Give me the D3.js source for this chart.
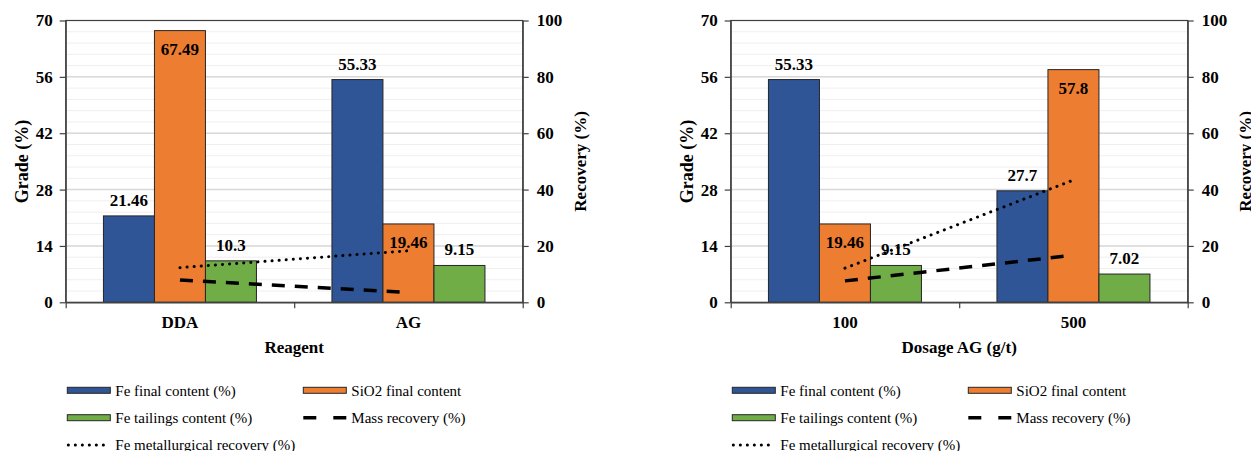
<!DOCTYPE html>
<html>
<head>
<meta charset="utf-8">
<script src="https://cdn.jsdelivr.net/npm/d3@7"></script>
<style>
  body { margin: 0; background: #fff; }
  svg { display: block; font-family: "Liberation Serif", "Times New Roman", serif; }
</style>
</head>
<body>
<svg width="1251" height="451"></svg>
<script>
// series names, in legend order
var seriesNames = ['Fe final content (%)', 'SiO2 final content', 'Fe tailings content (%)',
                   'Mass recovery (%)', 'Fe metallurgical recovery (%)'];
var barColors = ['#2f5597', '#ed7d31', '#70ad47'];

// left chart: reagent
var reagentCats = ['DDA', 'AG'];
var reagentFeFinal = [21.46, 55.33];
var reagentSiO2 = [67.49, 19.46];
var reagentFeTail = [10.3, 9.15];
var reagentMassRec = [7.9, 3.5];
var reagentFeRec = [12.3, 18.3];

// right chart: dosage
var dosageCats = ['100', '500'];
var dosageFeFinal = [55.33, 27.7];
var dosageSiO2 = [19.46, 57.8];
var dosageFeTail = [9.15, 7.02];
var dosageMassRec = [7.6, 16.7];
var dosageFeRec = [12.1, 43.4];

var gradeTicks = [0, 14, 28, 42, 56, 70];
var gradeMinor = d3.range(0, 70.01, 2.8);
var recoveryTicks = [0, 20, 40, 60, 80, 100];

var svg = d3.select('svg');
var serif = '"Liberation Serif", "Times New Roman", serif';

var plotW = 457, plotTop = 20.5, plotBottom = 302.3;

function drawChart(left, cats, bars, lines, xTitle) {
  var g = svg.append('g').attr('transform', 'translate(' + left + ',0)');

  var y = d3.scaleLinear().domain([0, 70]).range([plotBottom, plotTop]);
  var yR = d3.scaleLinear().domain([0, 100]).range([plotBottom, plotTop]);
  var x0 = d3.scaleBand().domain(cats).range([0, plotW]);
  var x1 = d3.scaleBand().domain([0, 1, 2]).range([0, x0.bandwidth()]).paddingOuter(0.74);

  // gridlines
  g.selectAll('.minor').data(gradeMinor).enter().append('line')
    .attr('x1', 0).attr('x2', plotW)
    .attr('y1', function(d) { return y(d); }).attr('y2', function(d) { return y(d); })
    .style('stroke', '#efefef').style('stroke-width', 1);
  g.selectAll('.major').data(gradeTicks.slice(1, -1)).enter().append('line')
    .attr('x1', 0).attr('x2', plotW)
    .attr('y1', function(d) { return y(d); }).attr('y2', function(d) { return y(d); })
    .style('stroke', '#d9d9d9').style('stroke-width', 1.5);

  // bars
  var grp = g.selectAll('.grp').data(cats).enter().append('g')
    .attr('transform', function(d) { return 'translate(' + x0(d) + ',0)'; });
  grp.selectAll('rect').data(function(d, i) { return bars.map(function(s) { return s[i]; }); })
    .enter().append('rect')
    .attr('x', function(d, j) { return x1(j); })
    .attr('width', x1.bandwidth())
    .attr('y', function(d) { return y(d); })
    .attr('height', function(d) { return plotBottom - y(d); })
    .style('fill', function(d, j) { return barColors[j]; })
    .style('stroke', '#262626').style('stroke-width', 1);
  grp.selectAll('text').data(function(d, i) { return bars.map(function(s) { return s[i]; }); })
    .enter().append('text')
    .attr('x', function(d, j) { return x1(j) + x1.bandwidth() / 2; })
    .attr('y', function(d, j) { return j == 1 ? y(d) + 18 : y(d) - 16; })
    .attr('dy', '0.35em')
    .attr('text-anchor', 'middle')
    .style('font-size', '17px').style('font-weight', 'bold')
    .text(function(d) { return d; });

  // recovery lines
  var line = d3.line()
    .x(function(d, i) { return x0(cats[i]) + x0.bandwidth() / 2; })
    .y(function(d) { return yR(d); });
  g.append('path').attr('d', line(lines[0]))
    .style('fill', 'none').style('stroke', '#000').style('stroke-width', 3.5)
    .style('stroke-dasharray', '13,10');
  g.append('path').attr('d', line(lines[1]))
    .style('fill', 'none').style('stroke', '#000').style('stroke-width', 3)
    .style('stroke-linecap', 'round').style('stroke-dasharray', '0.1,7');

  // frame
  g.append('rect').attr('x', 0).attr('y', plotTop).attr('width', plotW)
    .attr('height', plotBottom - plotTop)
    .style('fill', 'none').style('stroke', '#404040').style('stroke-width', 1.2);

  // axes
  var axL = g.append('g').call(d3.axisLeft(y).tickValues(gradeTicks).tickSize(6).tickSizeOuter(0).tickPadding(7));
  var axR = g.append('g').attr('transform', 'translate(' + plotW + ',0)')
    .call(d3.axisRight(yR).tickValues(recoveryTicks).tickSize(6).tickSizeOuter(0).tickPadding(8));
  var axB = g.append('g').attr('transform', 'translate(0,' + plotBottom + ')')
    .call(d3.axisBottom(d3.scaleLinear().domain([0, cats.length]).range([0, plotW]))
      .ticks(cats.length).tickFormat('').tickSize(6).tickSizeOuter(0));
  var axC = g.append('g').attr('transform', 'translate(0,' + plotBottom + ')')
    .call(d3.axisBottom(x0).tickSize(0).tickPadding(14));
  axC.select('.domain').remove();
  [axL, axR, axB, axC].forEach(function(a) {
    a.attr('font-family', serif).attr('font-size', 17);
    a.selectAll('.domain, line').style('stroke', '#404040').style('stroke-width', 1.2);
    a.selectAll('text').style('font-family', serif).style('font-size', '17px')
      .style('font-weight', 'bold').style('fill', '#000');
  });

  // titles
  g.append('text').attr('transform', 'translate(-44,' + ((plotTop + plotBottom) / 2) + ') rotate(-90)')
    .attr('text-anchor', 'middle').attr('dy', '0.35em')
    .style('font-size', '18px').style('font-weight', 'bold').text('Grade (%)');
  g.append('text').attr('transform', 'translate(' + (plotW + 57) + ',' + ((plotTop + plotBottom) / 2) + ') rotate(-90)')
    .attr('text-anchor', 'middle').attr('dy', '0.35em')
    .style('font-size', '17px').style('font-weight', 'bold').text('Recovery (%)');
  g.append('text').attr('x', plotW / 2).attr('y', 347).attr('dy', '0.35em')
    .attr('text-anchor', 'middle')
    .style('font-size', '17px').style('font-weight', 'bold').text(xTitle);

  // legend
  var legPos = [[1.6, 390.3], [237.6, 390.3], [1.6, 417.7], [237.6, 417.7], [1.6, 445]];
  var leg = g.selectAll('.leg').data(seriesNames).enter().append('g')
    .attr('transform', function(d, i) { return 'translate(' + legPos[i][0] + ',' + legPos[i][1] + ')'; });
  leg.each(function(d, i) {
    var el = d3.select(this);
    if (i < 3) {
      el.append('rect').attr('x', 0).attr('y', -3).attr('width', 43).attr('height', 6)
        .style('fill', barColors[i]).style('stroke', '#262626').style('stroke-width', 1);
    } else if (i == 3) {
      el.append('line').attr('x1', 0).attr('x2', 43).attr('y1', 0).attr('y2', 0)
        .style('stroke', '#000').style('stroke-width', 3.5).style('stroke-dasharray', '13,17');
    } else {
      el.append('line').attr('x1', 1).attr('x2', 43).attr('y1', 0).attr('y2', 0)
        .style('stroke', '#000').style('stroke-width', 3).style('stroke-linecap', 'round')
        .style('stroke-dasharray', '0.1,6.9');
    }
    el.append('text').attr('x', 48).attr('dy', '0.35em')
      .style('font-size', '15px').text(d);
  });
}

drawChart(65.7, reagentCats, [reagentFeFinal, reagentSiO2, reagentFeTail],
  [reagentMassRec, reagentFeRec], 'Reagent');
drawChart(730.7, dosageCats, [dosageFeFinal, dosageSiO2, dosageFeTail],
  [dosageMassRec, dosageFeRec], 'Dosage AG (g/t)');
</script>
</body>
</html>
